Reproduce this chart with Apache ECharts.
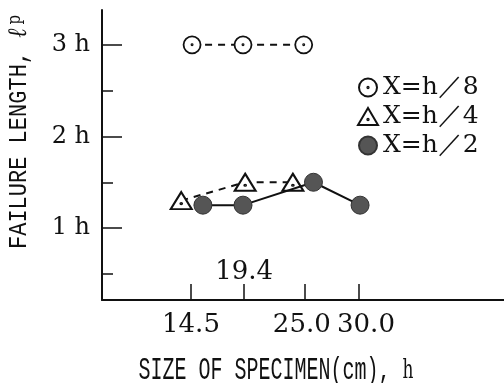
<!DOCTYPE html>
<html>
<head>
<meta charset="utf-8">
<script src="https://cdn.jsdelivr.net/npm/echarts@6/dist/echarts.min.js"></script>
<style>
html,body{margin:0;padding:0;background:#fff;}
#c{width:504px;height:383px;}
</style>
</head>
<body>
<div id="c"></div>
<script>
// ---- data ----
const seriesNames = ['X=h／8', 'X=h／4', 'X=h／2'];
const h8X = [14.6, 19.3, 24.9];
const h8Y = [3.0, 3.0, 3.0];
const h4X = [13.6, 19.5, 23.9];
const h4Y = [1.3, 1.5, 1.5];
const h2X = [15.6, 19.3, 25.8, 30.1];
const h2Y = [1.25, 1.25, 1.5, 1.25];
const xTickValues = [14.5, 19.4, 25.0, 30.0];
const xLabelsBelow = [14.5, 25.0, 30.0];
const xLabelsAbove = [19.4];
const yMajorTicks = [1, 2, 3];
const yMinorTicks = [0.5, 1.5, 2.5];
const xTitle = 'SIZE OF SPECIMEN(cm), ';
const xTitleVar = 'h';
const yTitle = 'FAILURE LENGTH, ';
const yTitleSym = 'ℓ';
const yTitleSub = 'p';

const pairs = (xs, ys) => xs.map((x, i) => [x, ys[i]]);

const X_MIN = 6.29, X_MAX = 43.38;
const Y_MIN = 0.215, Y_MAX = 3.38;
const INK = '#111';

const circleDot = 'path://M0,-10A10,10 0 1,1 0,10A10,10 0 1,1 0,-10Z M0,-0.7A0.7,0.7 0 1,1 0,0.7A0.7,0.7 0 1,1 0,-0.7Z';
const triDot = 'path://M0,0L10,17L-10,17Z M0,10.8A0.7,0.7 0 1,1 0,12.2A0.7,0.7 0 1,1 0,10.8Z';

const serifLabel = { fontFamily: 'DejaVu Serif', color: INK };

const chart = echarts.init(document.getElementById('c'), null, { renderer: 'canvas' });
chart.setOption({
  backgroundColor: '#fff',
  animation: false,
  grid: { left: 102, right: 0, top: 10, bottom: 83, containLabel: false },
  legend: {
    orient: 'vertical',
    left: 352,
    top: 70,
    itemWidth: 20,
    itemHeight: 18,
    itemGap: 4,
    itemTextGap: 18,
    textStyle: { fontFamily: 'DejaVu Serif', fontSize: 25, color: INK },
    data: [
      { name: seriesNames[0], icon: circleDot },
      { name: seriesNames[1], icon: triDot },
      { name: seriesNames[2], icon: 'circle' }
    ]
  },
  xAxis: [
    {
      type: 'value', min: X_MIN, max: X_MAX, position: 'bottom',
      axisLine: { show: true, lineStyle: { color: INK, width: 2 } },
      axisTick: { show: true, inside: true, length: 16, customValues: xTickValues, lineStyle: { color: INK, width: 1.5 } },
      axisLabel: {
        customValues: xLabelsBelow, margin: 12,
        formatter: v => {
          const s = v.toFixed(1);
          if (v === 25) return '{l|' + s + '}';
          if (v === 30) return '{r|' + s + '}';
          return '{c|' + s + '}';
        },
        rich: {
          c: { fontFamily: 'DejaVu Serif', fontSize: 26, color: INK },
          l: { fontFamily: 'DejaVu Serif', fontSize: 26, color: INK, padding: [0, 6, 0, 0] },
          r: { fontFamily: 'DejaVu Serif', fontSize: 26, color: INK, padding: [0, 0, 0, 14] }
        }
      },
      splitLine: { show: false }
    },
    {
      type: 'value', min: X_MIN, max: X_MAX, position: 'bottom',
      axisLine: { show: false }, axisTick: { show: false },
      axisLabel: Object.assign({ customValues: xLabelsAbove, inside: true, margin: 15, fontSize: 26, formatter: v => v.toFixed(1) }, serifLabel),
      splitLine: { show: false }
    }
  ],
  yAxis: [
    {
      type: 'value', min: Y_MIN, max: Y_MAX, position: 'left',
      axisLine: { show: true, lineStyle: { color: INK, width: 2 } },
      axisTick: { show: true, inside: true, length: 20, customValues: yMajorTicks, lineStyle: { color: INK, width: 1.5 } },
      axisLabel: Object.assign({ customValues: yMajorTicks, margin: 12, fontSize: 24, formatter: v => v + ' h' }, serifLabel),
      splitLine: { show: false }
    },
    {
      type: 'value', min: Y_MIN, max: Y_MAX, position: 'left',
      axisLine: { show: false },
      axisTick: { show: true, inside: true, length: 11, customValues: yMinorTicks, lineStyle: { color: INK, width: 1.5 } },
      axisLabel: { show: false },
      splitLine: { show: false }
    }
  ],
  series: [
    {
      name: seriesNames[0], type: 'line', xAxisIndex: 0, yAxisIndex: 0,
      data: pairs(h8X, h8Y),
      symbol: circleDot, symbolSize: 17,
      itemStyle: { color: '#fff', borderColor: INK, borderWidth: 1.8 },
      lineStyle: { color: INK, width: 2, type: [7, 6] },
      z: 3
    },
    {
      name: seriesNames[1], type: 'line', xAxisIndex: 0, yAxisIndex: 0,
      data: pairs(h4X, h4Y),
      symbol: triDot, symbolSize: [21, 17],
      itemStyle: { color: '#fff', borderColor: INK, borderWidth: 2 },
      lineStyle: { color: INK, width: 2, type: [7, 6] },
      z: 3
    },
    {
      name: seriesNames[2], type: 'line', xAxisIndex: 0, yAxisIndex: 0,
      data: pairs(h2X, h2Y),
      symbol: 'circle', symbolSize: 18,
      itemStyle: { color: '#555', borderColor: '#333', borderWidth: 1 },
      lineStyle: { color: INK, width: 2 },
      z: 4
    }
  ],
  graphic: [
    {
      type: 'text', x: 276, y: 371, scaleY: 1.55,
      style: {
        text: '{a|' + xTitle + '}{b|' + xTitleVar + '}',
        align: 'center', verticalAlign: 'middle',
        rich: {
          a: { fontFamily: 'Liberation Mono', fontSize: 20, fill: INK },
          b: { fontFamily: 'DejaVu Serif', fontSize: 17, fill: INK }
        }
      }
    },
    {
      type: 'text', x: 19, y: 132, rotation: Math.PI / 2, scaleY: 1.2,
      style: {
        text: '{a|' + yTitle + '}{l|' + yTitleSym + '}{p|' + yTitleSub + '}',
        align: 'center', verticalAlign: 'middle',
        rich: {
          a: { fontFamily: 'Liberation Mono', fontSize: 22, fill: INK },
          l: { fontFamily: 'DejaVu Serif', fontStyle: 'italic', fontSize: 22, fill: INK, padding: [0, 4, 0, 0] },
          p: { fontFamily: 'DejaVu Serif', fontSize: 15, fill: INK, padding: [0, 0, 6, 0] }
        }
      }
    }
  ]
});
</script>
</body>
</html>
